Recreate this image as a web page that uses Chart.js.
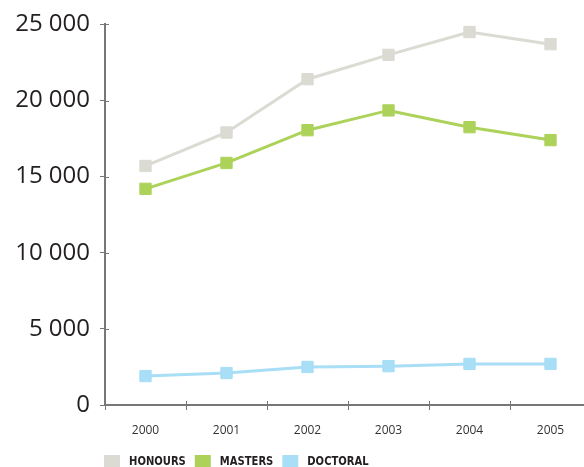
<!DOCTYPE html>
<html>
<head>
<meta charset="utf-8">
<script src="https://cdn.jsdelivr.net/npm/chart.js@4/dist/chart.umd.min.js"></script>
<style>
  html, body { margin: 0; padding: 0; background: #fff; overflow: hidden; }
  #wrap { width: 600px; height: 467px; }
</style>
</head>
<body>
<div id="wrap"><canvas id="chart" width="600" height="467"></canvas></div>
<script>
// Graduate completions by qualification level
const years = ['2000', '2001', '2002', '2003', '2004', '2005'];
const honours = [15700, 17900, 21400, 23000, 24500, 23700];
const masters = [14200, 15900, 18050, 19350, 18250, 17400];
const doctoral = [1900, 2100, 2500, 2550, 2700, 2700];
const yTicks = [0, 5000, 10000, 15000, 20000, 25000];

const seriesNames = ['HONOURS', 'MASTERS', 'DOCTORAL'];
const seriesColors = ['#dbdad3', '#acd25a', '#a8def6'];

const axisColor = '#777777';
const textColor = '#231f20';

function fmt(v) {
  return String(v).replace(/\B(?=(\d{3})+(?!\d))/g, ' ');
}

function makeSet(label, data, color) {
  return {
    label,
    data,
    borderColor: color,
    backgroundColor: color,
    borderWidth: 3,
    pointStyle: 'rect',
    pointRadius: 8,
    pointBorderWidth: 1,
    pointBorderColor: color,
    pointBackgroundColor: color,
    tension: 0
  };
}

// Short tick marks that cross the axis lines (inner half)
const crossTicks = {
  id: 'crossTicks',
  afterDraw(chart) {
    const { ctx, chartArea, scales } = chart;
    ctx.save();
    ctx.strokeStyle = axisColor;
    ctx.lineWidth = 1;
    ctx.beginPath();
    yTicks.forEach(v => {
      const y = Math.round(scales.y.getPixelForValue(v)) + 0.5;
      ctx.moveTo(chartArea.left, y);
      ctx.lineTo(chartArea.left + 4, y);
    });
    for (let i = 0; i <= years.length; i++) {
      const x = Math.round(chartArea.left + (chartArea.right - chartArea.left) * i / years.length) + 0.5;
      ctx.moveTo(x, chartArea.bottom);
      ctx.lineTo(x, chartArea.bottom - 4);
    }
    ctx.stroke();
    ctx.restore();
  }
};

// Legend row under the x axis, set in a condensed bold face
const bottomLegend = {
  id: 'bottomLegend',
  afterDraw(chart) {
    const { ctx, chartArea } = chart;
    const squeeze = 0.89;
    ctx.save();
    ctx.font = "bold 12.5px 'DejaVu Sans Condensed', 'Liberation Sans Narrow', sans-serif";
    ctx.textBaseline = 'middle';
    let x = chartArea.left - 1;
    const yMid = 461;
    chart.data.datasets.forEach(ds => {
      ctx.fillStyle = ds.borderColor;
      ctx.fillRect(x, yMid - 6, 16, 12);
      x += 25;
      ctx.fillStyle = textColor;
      ctx.save();
      ctx.translate(x, yMid + 0.5);
      ctx.scale(squeeze, 1);
      ctx.fillText(ds.label, 0, 0);
      ctx.restore();
      x += ctx.measureText(ds.label).width * squeeze + 9;
    });
    ctx.restore();
  }
};

new Chart(document.getElementById('chart'), {
  type: 'line',
  data: {
    labels: years,
    datasets: [
      makeSet(seriesNames[0], honours, seriesColors[0]),
      makeSet(seriesNames[1], masters, seriesColors[1]),
      makeSet(seriesNames[2], doctoral, seriesColors[2])
    ]
  },
  options: {
    responsive: false,
    animation: false,
    layout: { padding: { top: 23, right: 6, bottom: 30, left: 0 } },
    plugins: {
      legend: { display: false },
      tooltip: { enabled: false }
    },
    scales: {
      x: {
        type: 'category',
        offset: true,
        grid: {
          offset: true,
          drawOnChartArea: false,
          drawTicks: true,
          tickLength: 5,
          color: axisColor,
          lineWidth: 1
        },
        border: { display: true, color: axisColor, width: 2 },
        ticks: {
          padding: 13,
          color: '#333333',
          font: { family: "'Open Sans', 'Noto Sans', sans-serif", size: 12 },
          maxRotation: 0
        },
        afterFit(s) { s.height = 32; }
      },
      y: {
        min: 0,
        max: 25000,
        afterBuildTicks(s) { s.ticks = yTicks.map(v => ({ value: v })); },
        grid: {
          drawOnChartArea: false,
          drawTicks: true,
          tickLength: 5,
          color: axisColor,
          lineWidth: 1
        },
        border: { display: true, color: axisColor, width: 2 },
        ticks: {
          padding: 10,
          color: textColor,
          font: { family: "'Open Sans', 'Noto Sans', sans-serif", size: 24 },
          callback: v => fmt(v)
        },
        afterFit(s) { s.width = 105; }
      }
    }
  },
  plugins: [crossTicks, bottomLegend]
});
</script>
</body>
</html>
